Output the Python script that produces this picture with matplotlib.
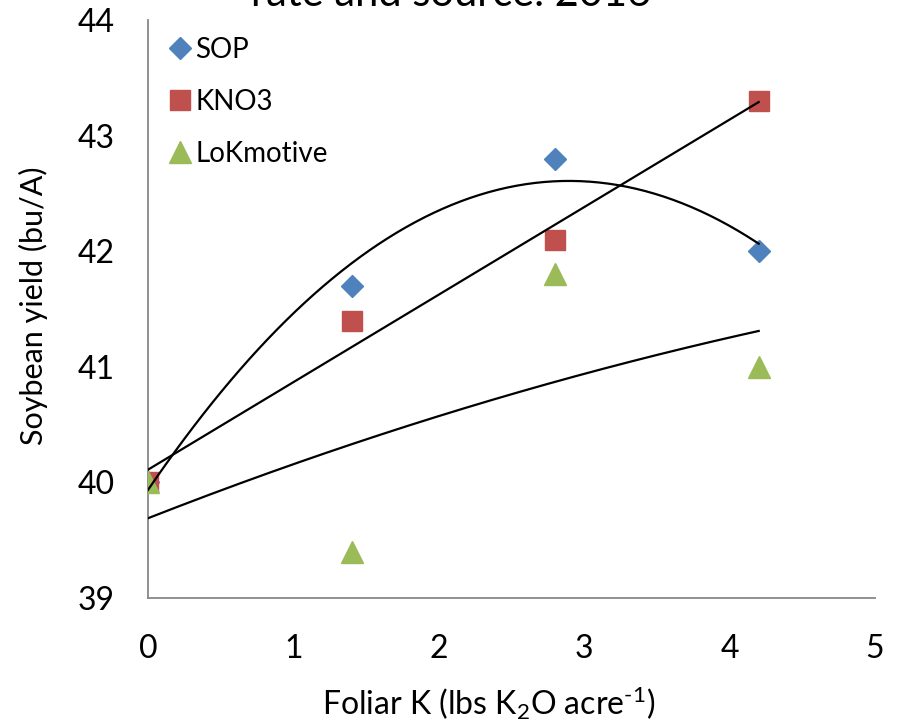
import numpy as np
import matplotlib.pyplot as plt

plt.rcParams['font.family'] = ['Lato', 'DejaVu Sans']
plt.rcParams['mathtext.fontset'] = 'custom'
plt.rcParams['mathtext.rm'] = 'Lato'
plt.rcParams['mathtext.it'] = 'Lato'

# Foliar K rate (lbs K2O/acre)
rates = [0, 1.4, 2.8, 4.2]

# Soybean yield (bu/A)
sop = [40.0, 41.7, 42.8, 42.0]
kno3 = [40.0, 41.4, 42.1, 43.3]
lok = [40.0, 39.4, 41.8, 41.0]

fig = plt.figure(figsize=(8.97, 7.23), dpi=100)
ax = fig.add_axes([148 / 897, 1 - 598 / 723, (875 - 148) / 897, (598 - 20) / 723])

ax.plot(rates, sop, 'D', color='#4F81BD', markersize=11, label='SOP', zorder=3)
ax.plot(rates, kno3, 's', color='#C0504D', markersize=14, label='KNO3', zorder=3)
ax.plot(rates, lok, '^', color='#9BBB59', markersize=16, label='LoKmotive', zorder=4)

# Trendlines: 2nd order poly for SOP and LoKmotive, linear for KNO3
xx = np.linspace(0, 4.2, 200)
x = np.array(rates)
ax.plot(xx, np.polyval(np.polyfit(x, sop, 2), xx), 'k-', lw=1.6, zorder=5)
ax.plot(xx, np.polyval(np.polyfit(x, kno3, 1), xx), 'k-', lw=1.6, zorder=5)
ax.plot(xx, np.polyval(np.polyfit(x, lok, 2), xx), 'k-', lw=1.6, zorder=5)

ax.set_xlim(0, 5)
ax.set_ylim(39, 44)
ax.set_xticks(range(0, 6))
ax.set_yticks(range(39, 45))
ax.tick_params(length=0, labelsize=23)
ax.tick_params(axis='x', pad=26)
ax.tick_params(axis='y', pad=24)
for s in ['top', 'right']:
    ax.spines[s].set_visible(False)
for s in ['left', 'bottom']:
    ax.spines[s].set_color('#888888')
    ax.spines[s].set_linewidth(1.3)

ax.set_xlabel('Foliar K (lbs K$_2$O acre$^{\u2010 1}$)', fontsize=23, va='center')
ax.xaxis.set_label_coords(0.469, -0.182)
ax.set_ylabel('Soybean yield (bu/A)', fontsize=22, va='center')
ax.yaxis.set_label_coords(-0.158, 0.505)

fig.text(451 / 897, 1 - 6 / 723, 'rate and source. 2016', fontsize=30,
         ha='center', va='baseline')

ax.legend(loc='upper left', frameon=False, fontsize=20, handletextpad=0.05,
          labelspacing=0.93, borderaxespad=0.0, handlelength=1.0,
          bbox_to_anchor=(0.01, 0.99))

fig.savefig('out.png', dpi=100)
